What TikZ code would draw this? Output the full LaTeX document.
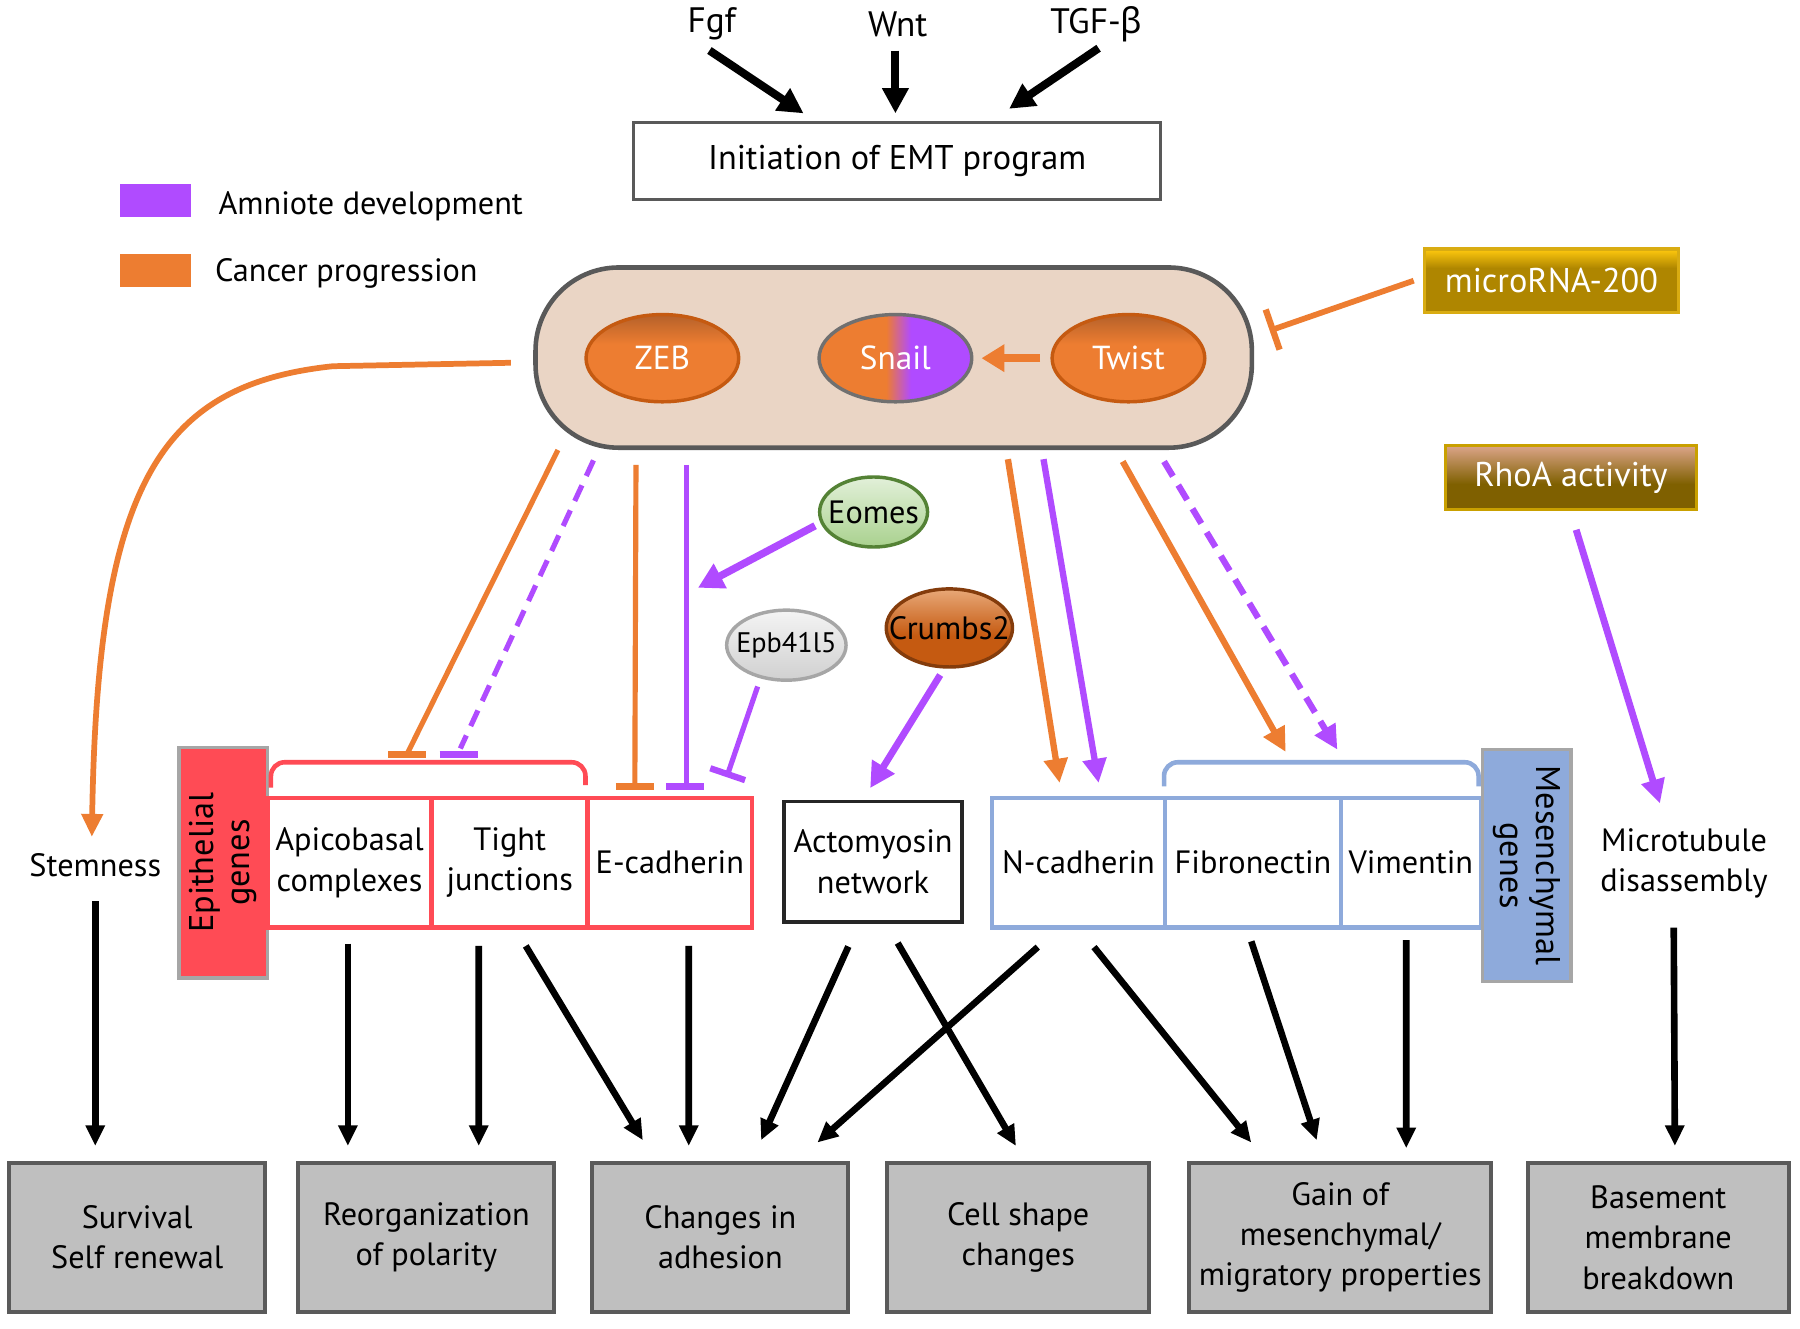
\documentclass[tikz,border=0pt]{standalone}
\usepackage{fontspec}
\setmainfont{PT Sans}
\newfontfamily\grkfont{Noto Sans}
\usetikzlibrary{arrows.meta,shapes.geometric}
\newlength\pxu
\setlength\pxu{0.2mm}
\newcommand\emtfont{\fontsize{16}{20}\selectfont}
\newcommand\initfont{\fontsize{17}{20}\selectfont}
\newcommand\sigfont{\fontsize{17.5}{20}\selectfont}
\newcommand\tffont{\fontsize{16.5}{20}\selectfont}
\newcommand\goldfont{\fontsize{17}{20}\selectfont}
\newcommand\epbfont{\fontsize{14}{17}\selectfont}
\newcommand\genefont{\fontsize{17}{18}\selectfont}
\definecolor{emtorange}{HTML}{ED7D31}
\definecolor{emtpurple}{HTML}{B04BFF}
\definecolor{emtred}{HTML}{FF4B55}
\definecolor{emtblue}{HTML}{8EAADB}
\definecolor{pillfill}{HTML}{EAD5C5}
\definecolor{pilldraw}{HTML}{595959}
\definecolor{boxgray}{HTML}{BFBFBF}
\definecolor{boxdraw}{HTML}{5A5A5A}
\definecolor{initdraw}{HTML}{595959}
\definecolor{zebdraw}{HTML}{C55A11}
\definecolor{zebtop}{HTML}{B5612A}
\definecolor{snaildraw}{HTML}{707070}
\definecolor{eomestop}{HTML}{E2F0D9}
\definecolor{eomesbot}{HTML}{A9D18E}
\definecolor{eomesdraw}{HTML}{548235}
\definecolor{epbtop}{HTML}{F4F4F4}
\definecolor{epbbot}{HTML}{D0D0D0}
\definecolor{epbdraw}{HTML}{A6A6A6}
\definecolor{crtop}{HTML}{E8A878}
\definecolor{crbot}{HTML}{C55A11}
\definecolor{crdraw}{HTML}{843C0C}
\definecolor{mirtop}{HTML}{FFC90E}
\definecolor{mirbot}{HTML}{AF8600}
\definecolor{mirdraw}{HTML}{D9AC12}
\definecolor{rhotop}{HTML}{DCA58A}
\definecolor{rhobot}{HTML}{7F6000}
\definecolor{rhodraw}{HTML}{C9A000}
\definecolor{genegray}{HTML}{A6A6A6}
\pgfdeclarehorizontalshading{snailshade}{100bp}{color(0bp)=(emtorange); color(25bp)=(emtorange); color(47bp)=(emtorange); color(55bp)=(emtpurple); color(75bp)=(emtpurple); color(100bp)=(emtpurple)}
\pgfdeclareverticalshading{tfshade}{100bp}{color(0bp)=(emtorange); color(25bp)=(emtorange); color(58bp)=(emtorange); color(75bp)=(zebtop); color(100bp)=(zebtop)}
\pgfdeclareverticalshading{mirshade}{100bp}{color(0bp)=(mirbot); color(25bp)=(mirbot); color(60bp)=(mirbot); color(75bp)=(mirtop); color(100bp)=(mirtop)}
\pgfdeclareverticalshading{rhoshade}{100bp}{color(0bp)=(rhobot); color(25bp)=(rhobot); color(45bp)=(rhobot); color(75bp)=(rhotop); color(100bp)=(rhotop)}
\pgfdeclareverticalshading{crshade}{100bp}{color(0bp)=(crbot); color(25bp)=(crbot); color(45bp)=(crbot); color(75bp)=(crtop); color(100bp)=(crtop)}
\tikzset{
  blk/.style={line width=1.15mm, -{Triangle[length=3.6mm,width=3.2mm]}},
  topblk/.style={line width=1.4mm, -{Triangle[length=4.4mm,width=4.4mm]}},
  oline/.style={draw=emtorange, line width=0.9mm},
  pline/.style={draw=emtpurple, line width=0.9mm},
  pdash/.style={pline, dash pattern=on 3mm off 1.8mm},
  obar/.style={draw=emtorange, line width=1.2mm},
  pbar/.style={draw=emtpurple, line width=1.2mm},
  carrow/.style={-{Triangle[length=4.2mm,width=4mm]}},
  tf/.style={ellipse, minimum width=133\pxu, minimum height=76\pxu, inner sep=0, line width=0.6mm, text=white, font=\tffont, shade},
  smallell/.style={ellipse, inner sep=0, line width=0.6mm},
  cellr/.style={draw=emtred, line width=0.8mm, minimum height=113\pxu, inner sep=0, align=center},
  cellb/.style={draw=emtblue, line width=0.8mm, minimum height=113\pxu, inner sep=0, align=center},
  outbox/.style={draw=boxdraw, fill=boxgray, line width=0.7mm, minimum height=130\pxu, inner sep=0, align=center},
  genebox/.style={draw=genegray, line width=0.6mm, minimum width=201\pxu, minimum height=77\pxu, inner sep=0, align=center, font=\genefont},
  goldbox/.style={shade, line width=0.6mm, minimum height=55\pxu, text=white, font=\goldfont, inner sep=0}
}
\begin{document}
\begin{tikzpicture}[x=0.2mm,y=-0.2mm, every node/.style={font=\emtfont}]
\fill[white] (0,0) rectangle (1568,1157);
\useasboundingbox (0,0) rectangle (1568,1157);

% top signals
\node[inner sep=1pt, font=\sigfont] (fgf) at (620,21) {Fgf};
\node[inner sep=1pt, font=\sigfont] (wnt) at (782,21) {Wnt};
\node[inner sep=1pt, font=\sigfont] (tgf) at (955,21) {TGF-{\grkfont β}};
\node[draw=initdraw, line width=0.5mm, minimum width=459\pxu, minimum height=67\pxu, inner sep=0, font=\initfont] (init) at (781.5,140.5) {Initiation of EMT program};
\draw[topblk] ([xshift=-2\pxu,yshift=-23\pxu]fgf.center) -- ([xshift=-81.5\pxu,yshift=7\pxu]init.north);
\draw[topblk] ([xshift=-2\pxu,yshift=-23\pxu]wnt.center) -- ([xshift=-1.5\pxu,yshift=7\pxu]init.north);
\draw[topblk] ([xshift=2\pxu,yshift=-21\pxu]tgf.center) -- ([xshift=97.5\pxu,yshift=11\pxu]init.north);

% legend
\node[fill=emtpurple, minimum width=62\pxu, minimum height=29\pxu, inner sep=0] (lgp) at (135.5,174.5) {};
\node[anchor=west, inner sep=0] (lgpt) at (190,180) {Amniote development};
\node[fill=emtorange, minimum width=62\pxu, minimum height=29\pxu, inner sep=0] (lgo) at (135.5,235.5) {};
\node[anchor=west, inner sep=0] (lgot) at (187,238) {Cancer progression};

% pill with transcription factors
\node[draw=pilldraw, fill=pillfill, line width=0.8mm, rounded corners=14.5mm, minimum width=624\pxu, minimum height=157\pxu] (pill) at (778.5,311.5) {};
\node[tf, draw=zebdraw, shading=tfshade] (zeb) at (577,312) {\makebox[0pt]{ZEB}};
\node[tf, draw=snaildraw, shading=snailshade] (snail) at (780,312) {\makebox[0pt]{Snail}};
\node[tf, draw=zebdraw, shading=tfshade] (twist) at (983,312) {\makebox[0pt]{Twist}};
\draw[draw=emtorange, line width=1.4mm, -{Triangle[length=4mm,width=4.6mm]}, shorten <=9\pxu, shorten >=7\pxu] (twist) -- (snail);

% regulators on the right
\node[goldbox, shading=mirshade, draw=mirdraw, minimum width=221\pxu] (mir) at (1351.5,244.5) {microRNA-200};
\node[goldbox, shading=rhoshade, draw=rhodraw, minimum width=219\pxu, minimum height=56\pxu] (rhoa) at (1368.5,416) {RhoA activity};
\coordinate (mirT) at (1106,288);
\draw[oline, line width=1mm, -{Bar[width=7.4mm,line width=1.1mm]}] ([xshift=-8\pxu]mir.west) -- (mirT);

% small regulators
\node[smallell, draw=eomesdraw, top color=eomestop, bottom color=eomesbot, minimum width=94\pxu, minimum height=61\pxu] (eomes) at (761,446) {\makebox[0pt]{Eomes}};
\node[smallell, draw=epbdraw, top color=epbtop, bottom color=epbbot, minimum width=104\pxu, minimum height=61\pxu, font=\epbfont] (epb) at (685,562) {\makebox[0pt]{Epb41l5}};
\node[smallell, draw=crdraw, shade, shading=crshade, minimum width=110\pxu, minimum height=68\pxu] (crumbs) at (827,547) {\makebox[0pt]{Crumbs2}};

% side texts
\node (stem) at (83,754) {Stemness};
\node[align=center] (mt) at (1467,752) {Microtubule\\disassembly};

% epithelial genes
\node[genebox, fill=emtred, rotate=90] (epi) at (194.5,751.5) {Epithelial\\genes};
\node[cellr, minimum width=143\pxu] (apico) at (304.5,751.5) {Apicobasal\\complexes};
\node[cellr, minimum width=136\pxu] (tight) at (444,751.5) {Tight\\junctions};
\node[cellr, minimum width=143\pxu] (ecad) at (583.5,751.5) {E-cadherin};
\draw[draw=emtred, line width=0.8mm, rounded corners=2.4mm] ([xshift=5\pxu,yshift=7\pxu]apico.north west) |- ([xshift=-4\pxu,yshift=29\pxu]tight.north east) -- ([xshift=-4\pxu,yshift=9\pxu]tight.north east);

% actomyosin
\node[draw=black!85, line width=0.6mm, minimum width=155\pxu, minimum height=105\pxu, inner sep=0, align=center] (acto) at (760.5,750.5) {Actomyosin\\network};

% mesenchymal genes
\node[cellb, minimum width=151\pxu] (ncad) at (939.5,751.5) {N-cadherin};
\node[cellb, minimum width=153\pxu] (fibro) at (1091.5,751.5) {Fibronectin};
\node[cellb, minimum width=122\pxu] (vim) at (1229,751.5) {Vimentin};
\node[genebox, fill=emtblue, rotate=-90, minimum width=202\pxu] (mes) at (1330,754) {Mesenchymal\\genes};
\draw[draw=emtblue, line width=0.8mm, rounded corners=2.4mm] ([xshift=1\pxu,yshift=8\pxu]fibro.north west) |- ([xshift=-4\pxu,yshift=29\pxu]vim.north east) -- ([xshift=-4\pxu,yshift=8\pxu]vim.north east);

% outcome boxes
\node[outbox, minimum width=223\pxu] (b1) at (119.5,1078) {Survival\\Self renewal};
\node[outbox, minimum width=223\pxu] (b2) at (371.5,1078) {Reorganization\\of polarity};
\node[outbox, minimum width=223\pxu] (b3) at (627.5,1078) {Changes in\\adhesion};
\node[outbox, minimum width=228\pxu] (b4) at (887,1078) {Cell shape\\changes};
\node[outbox, minimum width=263\pxu] (b5) at (1167.5,1078) {Gain of\\mesenchymal/\\migratory properties};
\node[outbox, minimum width=227\pxu] (b6) at (1444.5,1078) {Basement\\membrane\\breakdown};

% pill -> stemness
\draw[draw=emtorange, line width=1mm, -{Triangle[length=4mm,width=3.6mm]}] ([xshift=-19.5\pxu,yshift=-4.5\pxu]pill.west) -- (290,319) .. controls (140,335) and (85,420) .. ([xshift=-3\pxu,yshift=25\pxu]stem.center);

% pill -> epithelial genes (repression)
\coordinate (ti1) at (354.5,657);
\coordinate (ti2) at (399.5,657);
\coordinate (ti3) at (553,685);
\coordinate (ti4) at (597,685);
\draw[oline] ([xshift=-292.5\pxu]pill.south) -- (ti1);
\draw[obar] ([xshift=-16.5\pxu]ti1) -- ([xshift=16.5\pxu]ti1);
\draw[pdash] ([xshift=-261.5\pxu,yshift=-9\pxu]pill.south) -- ([xshift=1.5\pxu,yshift=5\pxu]ti2);
\draw[pbar] ([xshift=-16.5\pxu]ti2) -- ([xshift=16.5\pxu]ti2);
\draw[oline] ([xshift=-224.5\pxu,yshift=-13\pxu]pill.south) -- (ti3);
\draw[obar] ([xshift=-16.5\pxu]ti3) -- ([xshift=16.5\pxu]ti3);
\draw[pline] ([xshift=-180.5\pxu,yshift=-13\pxu]pill.south) -- ([xshift=1\pxu]ti4);
\draw[pbar] ([xshift=-16.5\pxu]ti4) -- ([xshift=16.5\pxu]ti4);

% eomes, epb41l5, crumbs2
\coordinate (eTip) at (608,512);
\draw[pline, line width=1.3mm, -{Triangle[length=4.4mm,width=4.6mm]}] ([xshift=-51\pxu,yshift=-12\pxu]eomes.center) -- (eTip);
\coordinate (ti5) at (633,677);
\draw[pline, -{Bar[width=6.4mm,line width=1.1mm]}] ([xshift=-25\pxu,yshift=-36\pxu]epb.center) -- (ti5);
\draw[pline, line width=1.2mm, -{Triangle[length=4.4mm,width=4.4mm]}] ([xshift=-8\pxu,yshift=-41\pxu]crumbs.center) -- ([xshift=-2.5\pxu,yshift=10\pxu]acto.north);

% pill -> mesenchymal genes (activation)
\draw[oline, line width=1.1mm, carrow] ([xshift=99.5\pxu,yshift=-8\pxu]pill.south) -- ([xshift=-16.5\pxu,yshift=11\pxu]ncad.north);
\draw[pline, line width=1.1mm, carrow] ([xshift=130.5\pxu,yshift=-8\pxu]pill.south) -- ([xshift=17.5\pxu,yshift=11\pxu]ncad.north);
\draw[oline, line width=1.1mm, carrow] ([xshift=199.5\pxu,yshift=-10\pxu]pill.south) -- ([xshift=28.5\pxu,yshift=38\pxu]fibro.north);
\draw[pdash, line width=1.1mm, carrow] ([xshift=235.5\pxu,yshift=-10\pxu]pill.south) -- ([xshift=73.5\pxu,yshift=40\pxu]fibro.north);

% rhoa -> microtubule
\draw[pline, line width=1.2mm, carrow] ([xshift=4.5\pxu,yshift=-16\pxu]rhoa.south) -- ([xshift=-21\pxu,yshift=52\pxu]mt.center);

% black arrows to outcomes
\draw[blk] ([yshift=-31\pxu]stem.center) -- ([xshift=-36.5\pxu,yshift=13\pxu]b1.north);
\draw[blk] ([xshift=-1.5\pxu,yshift=-12\pxu]apico.south) -- ([xshift=-68.5\pxu,yshift=13\pxu]b2.north);
\draw[blk] ([xshift=-27\pxu,yshift=-14\pxu]tight.south) -- ([xshift=45.5\pxu,yshift=13\pxu]b2.north);
\draw[blk] ([xshift=14\pxu,yshift=-14\pxu]tight.south) -- ([xshift=-67.5\pxu,yshift=18\pxu]b3.north);
\draw[blk] ([xshift=16.5\pxu,yshift=-14\pxu]ecad.south) -- ([xshift=-27.5\pxu,yshift=13\pxu]b3.north);
\draw[blk] ([xshift=-21.5\pxu,yshift=-20\pxu]acto.south) -- ([xshift=35.5\pxu,yshift=18\pxu]b3.north);
\draw[blk] ([xshift=21.5\pxu,yshift=-17\pxu]acto.south) -- ([xshift=-2\pxu,yshift=13\pxu]b4.north);
\draw[blk] ([xshift=-35.5\pxu,yshift=-15\pxu]ncad.south) -- ([xshift=84.5\pxu,yshift=16\pxu]b3.north);
\draw[blk] ([xshift=13.5\pxu,yshift=-15\pxu]ncad.south) -- ([xshift=-77.5\pxu,yshift=16\pxu]b5.north);
\draw[blk] ([xshift=-1.5\pxu,yshift=-10\pxu]fibro.south) -- ([xshift=-20.5\pxu,yshift=18\pxu]b5.north);
\draw[blk] ([xshift=-4\pxu,yshift=-9\pxu]vim.south) -- ([xshift=57.5\pxu,yshift=11\pxu]b5.north);
\draw[blk] ([xshift=-9\pxu,yshift=-56\pxu]mt.center) -- ([xshift=14.5\pxu,yshift=13\pxu]b6.north);
\end{tikzpicture}
\end{document}
